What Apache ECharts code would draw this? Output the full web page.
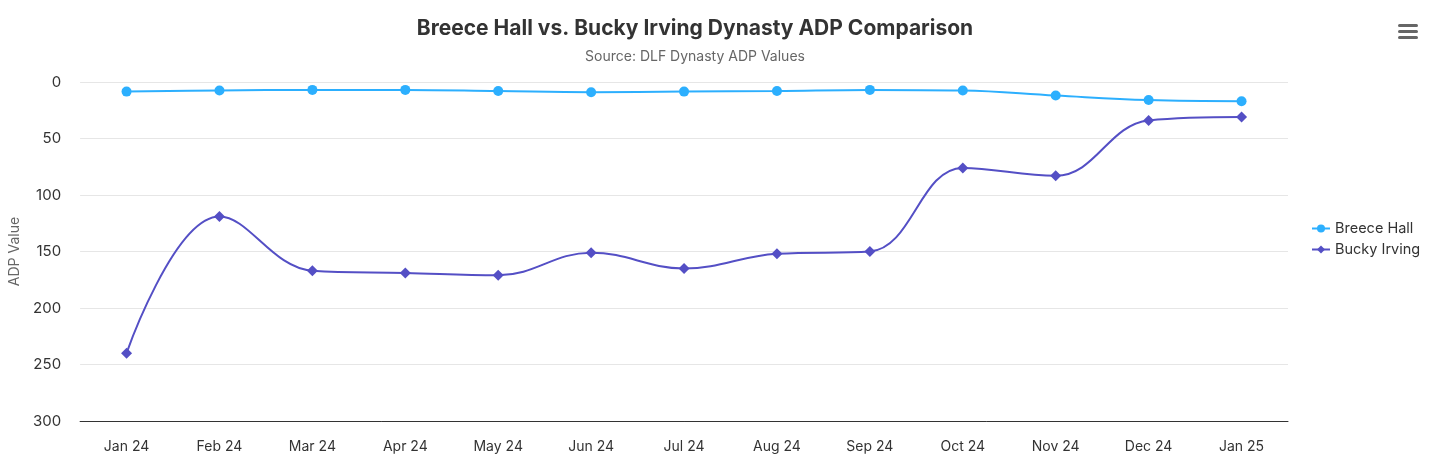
<!DOCTYPE html>
<html>
<head>
<meta charset="utf-8">
<script src="https://cdn.jsdelivr.net/npm/echarts@6/dist/echarts.min.js"></script>
<style>
html,body{margin:0;padding:0;background:#fff;}
#chart{width:1432px;height:460px;}
</style>
</head>
<body>
<div id="chart"></div>
<script>
const categories = ['Jan 24','Feb 24','Mar 24','Apr 24','May 24','Jun 24','Jul 24','Aug 24','Sep 24','Oct 24','Nov 24','Dec 24','Jan 25'];
const breeceHall = [8.5, 7.5, 7, 7, 8, 9, 8.5, 8, 7, 7.5, 12, 16, 17];
const buckyIrving = [240, 119, 167, 169, 171, 151, 165, 152, 150, 76, 83, 34, 31];
const yTicks = [0, 50, 100, 150, 200, 250, 300];

const FONT = 'Inter, "Noto Sans", sans-serif';
const chart = echarts.init(document.getElementById('chart'), null, {renderer: 'canvas'});
chart.setOption({
  animation: false,
  textStyle: {fontFamily: FONT},
  title: {
    text: 'Breece Hall vs. Bucky Irving Dynasty ADP Comparison',
    subtext: 'Source: DLF Dynasty ADP Values',
    left: 690, textAlign: 'center', top: 13,
    textStyle: {fontSize: 21, fontWeight: 'bold', color: '#333', fontFamily: FONT},
    subtextStyle: {fontSize: 14, color: '#666', fontFamily: FONT},
    itemGap: 11
  },
  legend: {
    orient: 'vertical', left: 1306, top: 216,
    itemWidth: 18, itemHeight: 10, itemGap: 6,
    textStyle: {fontSize: 14.5, color: '#333', fontFamily: FONT},
    data: ['Breece Hall', 'Bucky Irving']
  },
  grid: {left: 80, right: 144, top: 82, bottom: 39},
  xAxis: {
    type: 'category', data: categories, boundaryGap: true, position: 'bottom',
    axisLine: {onZero: false, lineStyle: {color: '#333', width: 1}},
    axisTick: {show: false},
    axisLabel: {fontSize: 14, color: '#333', margin: 19, fontFamily: FONT}
  },
  yAxis: {
    type: 'value', inverse: true, min: yTicks[0], max: yTicks[yTicks.length - 1], interval: 50,
    name: 'ADP Value', nameLocation: 'middle', nameRotate: 90, nameGap: 52,
    nameTextStyle: {fontSize: 14, color: '#666', fontFamily: FONT},
    axisLine: {show: false}, axisTick: {show: false},
    axisLabel: {fontSize: 15, color: '#333', margin: 19, fontFamily: FONT},
    splitLine: {lineStyle: {color: '#e6e6e6', width: 1}}
  },
  series: [
    {
      name: 'Breece Hall', type: 'line', data: breeceHall, smooth: 0.4,
      symbol: 'circle', symbolSize: 10,
      lineStyle: {color: '#2caffe', width: 2},
      itemStyle: {color: '#2caffe'}
    },
    {
      name: 'Bucky Irving', type: 'line', data: buckyIrving, smooth: 0.4,
      symbol: 'diamond', symbolSize: 11,
      lineStyle: {color: '#544fc5', width: 2},
      itemStyle: {color: '#544fc5'}
    }
  ],
  graphic: [
    {type: 'rect', left: 1398, top: 24, shape: {width: 20, height: 3, r: 1.5}, style: {fill: '#666'}},
    {type: 'rect', left: 1398, top: 30, shape: {width: 20, height: 3, r: 1.5}, style: {fill: '#666'}},
    {type: 'rect', left: 1398, top: 36, shape: {width: 20, height: 3, r: 1.5}, style: {fill: '#666'}}
  ]
});
</script>
</body>
</html>
